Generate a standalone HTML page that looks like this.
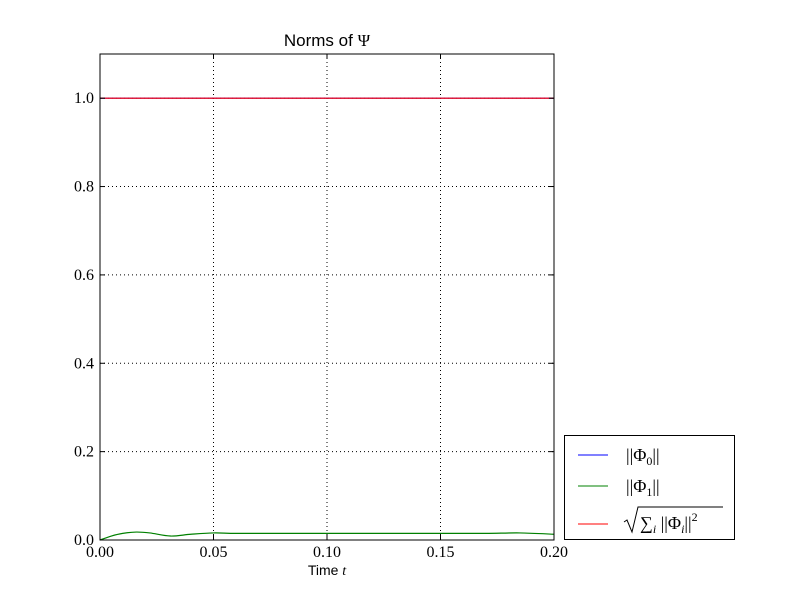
<!DOCTYPE html>
<html><head><meta charset="utf-8"><style>
body{margin:0;background:#fff;}
svg text{font-family:"Liberation Serif",serif;}
</style></head><body>
<svg id="chart" width="800" height="600">
<rect width="800" height="600" fill="#fff"/>
<g id="grid"></g>
<g id="series"></g>
<rect x="100" y="54" width="454" height="486" fill="none" stroke="#000" stroke-width="1"/>
<g id="ticks"></g>
<text x="327" y="46" text-anchor="middle" font-size="17" style="font-family:'Liberation Sans',sans-serif">Norms of <tspan style="font-family:'Liberation Serif',serif">Ψ</tspan></text>
<text x="327" y="575" text-anchor="middle" font-size="14" style="font-family:'Liberation Sans',sans-serif">Time <tspan font-style="italic" style="font-family:'Liberation Serif',serif">t</tspan></text>
<g>
<rect x="564.5" y="435.5" width="170" height="104" fill="#fff" stroke="#000"/>
<line x1="578" y1="455" x2="608" y2="455" stroke="#0000ff"/>
<text x="626" y="461" font-size="18">||Φ<tspan font-size="12" dy="4">0</tspan><tspan dy="-4">||</tspan></text>
<line x1="578" y1="486" x2="608" y2="486" stroke="#008000"/>
<text x="626" y="492" font-size="18">||Φ<tspan font-size="12" dy="4">1</tspan><tspan dy="-4">||</tspan></text>
<line x1="578" y1="524" x2="608" y2="524" stroke="#ff0000"/>
<g>
<polyline points="624,522 627,520 632,532 638,507 723,507" fill="none" stroke="#000" stroke-width="1"/>
<text x="640" y="529" font-size="18">∑<tspan font-size="12" font-style="italic" dy="4">i</tspan><tspan dy="-4"> ||Φ</tspan><tspan font-size="12" font-style="italic" dy="4">i</tspan><tspan dy="-4">||</tspan><tspan font-size="12" dy="-8">2</tspan></text>
</g>
</g>
</svg>
<script>
const xTicks=[0,0.05,0.10,0.15,0.20];
const xTickLabels=["0.00","0.05","0.10","0.15","0.20"];
const yTicks=[0,0.2,0.4,0.6,0.8,1.0];
const yTickLabels=["0.0","0.2","0.4","0.6","0.8","1.0"];
const times=[0,0.005,0.01,0.016,0.022,0.031,0.04,0.05,0.06,0.08,0.10,0.12,0.15,0.17,0.185,0.2];
const phi0=[1,1,1,1,1,1,1,1,1,1,1,1,1,1,1,1];
const phi1=[0,0.009,0.015,0.018,0.016,0.009,0.013,0.016,0.015,0.015,0.015,0.015,0.015,0.015,0.016,0.013];
const total=[1,1,1,1,1,1,1,1,1,1,1,1,1,1,1,1];
const NS="http://www.w3.org/2000/svg";
const X=v=>100+v/0.2*454, Y=v=>540-v/1.1*486;
const grid=document.getElementById('grid'),ticks=document.getElementById('ticks'),ser=document.getElementById('series');
function mk(tag,attrs,parent){const e=document.createElementNS(NS,tag);for(const k in attrs)e.setAttribute(k,attrs[k]);parent.appendChild(e);return e;}
xTicks.forEach((v,i)=>{const x=X(v);
 if(i>0&&i<xTicks.length-1){const g=mk('line',{x1:x,y1:54,x2:x,y2:540,stroke:'#000','stroke-dasharray':'1,3'},grid);
 
 }
 mk('line',{x1:x,y1:540,x2:x,y2:535,stroke:'#000'},ticks);mk('line',{x1:x,y1:54,x2:x,y2:59,stroke:'#000'},ticks);
 const t=mk('text',{x:x,y:557,'text-anchor':'middle','font-size':16},ticks);t.textContent=xTickLabels[i];
 
 });
yTicks.forEach((v,i)=>{const y=Y(v);
 if(i>0){const g=mk('line',{x1:100,y1:y,x2:554,y2:y,stroke:'#000','stroke-dasharray':'1,3'},grid);
 
 }
 mk('line',{x1:100,y1:y,x2:105,y2:y,stroke:'#000'},ticks);mk('line',{x1:554,y1:y,x2:549,y2:y,stroke:'#000'},ticks);
 const t=mk('text',{x:94,y:y+5,'text-anchor':'end','font-size':16},ticks);t.textContent=yTickLabels[i];
 
 });
function path(vals,color,name){
 let d='M'+X(times[0])+','+Y(vals[0]);
 for(let i=0;i<times.length-1;i++){const x0=X(times[i]),x1=X(times[i+1]),y0=Y(vals[i]),y1=Y(vals[i+1]);
  const pm=X(times[Math.max(i-1,0)]),ym=Y(vals[Math.max(i-1,0)]),pn=X(times[Math.min(i+2,times.length-1)]),yn=Y(vals[Math.min(i+2,times.length-1)]);
  d+=' C'+(x0+(x1-pm)/6)+','+(y0+(y1-ym)/6)+' '+(x1-(pn-x0)/6)+','+(y1-(yn-y0)/6)+' '+x1+','+y1;}
 const p=mk('path',{d:d,fill:'none',stroke:color,'stroke-width':1.2},ser);
 
 }
path(phi0,'#0000ff','line-phi0');
path(phi1,'#008000','line-phi1');
path(total,'#ff0000','line-total');
</script>
</body></html>
